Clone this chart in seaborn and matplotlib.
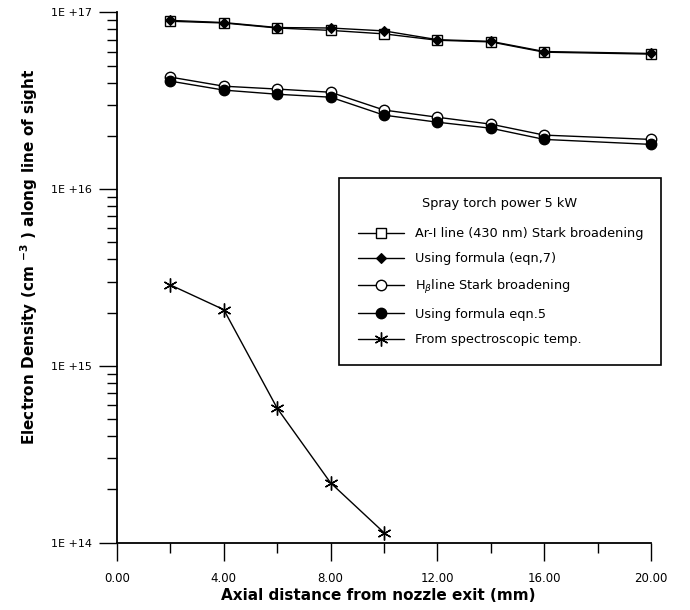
import matplotlib
matplotlib.use("Agg")
import matplotlib.pyplot as plt
from matplotlib.ticker import FixedLocator, FixedFormatter, NullFormatter
import numpy as np
import pandas as pd
import seaborn as sns

# ---- data ----
x_main = [2, 4, 6, 8, 10, 12, 14, 16, 20]
ar_stark = [8.9e16, 8.7e16, 8.15e16, 7.9e16, 7.55e16, 6.95e16, 6.8e16, 5.95e16, 5.8e16]
ar_formula = [9.0e16, 8.75e16, 8.2e16, 8.15e16, 7.85e16, 7.0e16, 6.85e16, 6.0e16, 5.85e16]
hb_stark = [4.30e16, 3.82e16, 3.68e16, 3.53e16, 2.80e16, 2.55e16, 2.33e16, 2.02e16, 1.91e16]
hb_formula = [4.08e16, 3.63e16, 3.44e16, 3.31e16, 2.62e16, 2.39e16, 2.21e16, 1.91e16, 1.79e16]
x_spec = [2, 4, 6, 8, 10]
spec_temp = [2.87e15, 2.08e15, 5.76e14, 2.18e14, 1.14e14]

series_labels = [
    "Ar-I line (430 nm) Stark broadening",
    "Using formula (eqn,7)",
    r"H$_{\beta}$line Stark broadening",
    "Using formula eqn.5",
    "From spectroscopic temp.",
]
legend_title = "Spray torch power 5 kW"
y_ticks = [1e14, 1e15, 1e16, 1e17]
y_tick_labels = ["1E +14", "1E +15", "1E +16", "1E +17"]
x_ticks = [0, 4, 8, 12, 16, 20]
x_tick_labels = ["0.00", "4.00", "8.00", "12.00", "16.00", "20.00"]
x_minor = [2, 6, 10, 14, 18]
x_label = "Axial distance from nozzle exit (mm)"
y_label = r"Electron Density (cm $^{\mathbf{-3}}$ ) along line of sight"

sns.set_style("white")
plt.rcParams["font.family"] = ["DejaVu Sans"]
plt.rcParams["mathtext.fontset"] = "dejavusans"
for key in ["text.color", "axes.labelcolor", "xtick.color", "ytick.color", "axes.edgecolor"]:
    plt.rcParams[key] = "black"

fig = plt.figure(figsize=(6.9, 6.1), dpi=100)
ax = fig.add_axes([117 / 690, 1 - 542.7 / 610, (651 - 117) / 690, (542.7 - 12.3) / 610])

styles = [
    (x_main, ar_stark, dict(marker="s", markersize=7.5, markerfacecolor="white", markeredgecolor="k", markeredgewidth=1.0)),
    (x_main, ar_formula, dict(marker="D", markersize=5.5, markerfacecolor="k", markeredgecolor="k", markeredgewidth=0.8)),
    (x_main, hb_stark, dict(marker="o", markersize=7.5, markerfacecolor="white", markeredgecolor="k", markeredgewidth=1.0)),
    (x_main, hb_formula, dict(marker="o", markersize=7.5, markerfacecolor="k", markeredgecolor="k", markeredgewidth=1.0)),
    (x_spec, spec_temp, dict(marker=(6, 2, 0), markersize=10, markerfacecolor="k", markeredgecolor="k", markeredgewidth=1.0)),
]

for (xs, ys, st), lab in zip(styles, series_labels):
    df = pd.DataFrame({"x": xs, "y": ys})
    sns.lineplot(data=df, x="x", y="y", ax=ax, color="k", linewidth=1.0,
                 label=lab, clip_on=False, **st)

ax.set_yscale("log")
ax.set_ylim(1e14, 1e17)
ax.set_xlim(0, 20)

ax.yaxis.set_major_locator(FixedLocator(y_ticks))
ax.yaxis.set_major_formatter(FixedFormatter(y_tick_labels))
minor_y = [m * 10.0 ** e for e in (14, 15, 16) for m in range(2, 10)]
ax.yaxis.set_minor_locator(FixedLocator(minor_y))
ax.yaxis.set_minor_formatter(NullFormatter())

ax.xaxis.set_major_locator(FixedLocator(x_ticks))
ax.xaxis.set_major_formatter(FixedFormatter(x_tick_labels))
ax.xaxis.set_minor_locator(FixedLocator(x_minor))

ax.tick_params(axis="both", which="major", direction="out", length=13, width=1.0,
               color="k", labelcolor="k")
ax.tick_params(axis="y", which="major", labelsize=8, pad=5)
ax.tick_params(axis="x", which="major", labelsize=8.5, pad=8)
ax.tick_params(axis="both", which="minor", direction="out", length=7, width=1.0, color="k")
ax.tick_params(axis="both", which="both", left=True, bottom=True)

for s in ["top", "right"]:
    ax.spines[s].set_visible(False)
for s in ["left", "bottom"]:
    ax.spines[s].set_color("k")
    ax.spines[s].set_linewidth(1.3)

ax.set_xlabel(x_label, fontsize=11, fontweight="bold", color="k")
ax.set_ylabel(y_label, fontsize=11, fontweight="bold", color="k")
ax.xaxis.set_label_coords(0.489, -0.085)
ax.yaxis.set_label_coords(-0.145, 0.54)

leg = ax.legend(title=legend_title, loc="upper left",
                bbox_to_anchor=(0.4157, 0.3275, 0.603, 0.3601), mode="expand",
                fontsize=9.3, title_fontsize=9.3, frameon=True, fancybox=False,
                handlelength=3.6, handletextpad=0.85, labelspacing=0.95,
                borderpad=1.45, borderaxespad=0, labelcolor="k")
leg.get_frame().set_edgecolor("k")
leg.get_frame().set_linewidth(1.2)
leg.get_frame().set_alpha(1)
leg.get_title().set_color("k")
leg._legend_box.sep = 12.5

fig.savefig("out.png", dpi=100)
